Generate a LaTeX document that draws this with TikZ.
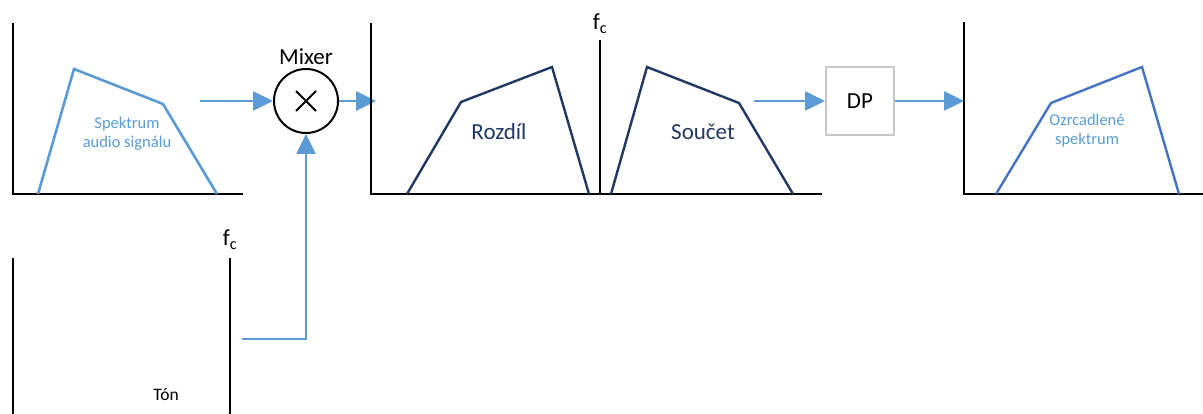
\documentclass[tikz,border=0pt]{standalone}
\usepackage{fontspec}
\setmainfont{Carlito}
\usetikzlibrary{arrows.meta,calc}
\definecolor{lblue}{HTML}{5B9BD5}
\definecolor{navy}{HTML}{1F3864}
\definecolor{mblue}{HTML}{4472C4}
\definecolor{boxgray}{HTML}{C8C8C8}
\tikzset{
  axis/.style={line width=2.6pt, black},
  spec1/.style={line width=2.6pt, lblue, line join=miter},
  spec2/.style={line width=2.4pt, navy, line join=miter},
  spec3/.style={line width=2.4pt, mblue, line join=miter},
  flow/.style={line width=2.6pt, lblue, -{Triangle[length=20pt,width=19pt]}},
  bigtext/.style={font=\fontsize{23}{28}\selectfont, inner sep=0pt},
  smalltext/.style={font=\fontsize{16.5}{19}\selectfont, inner sep=0pt, align=center},
}
\begin{document}
\begin{tikzpicture}[x=1pt,y=-1pt]
\useasboundingbox (0,0) rectangle (1203,414);
% Panel 1
\draw[axis] (13,23) -- (13,194) -- (243,194);
\draw[spec1] (38,194) -- (74,69) -- (163,104) -- (217,194);
\node[smalltext, text=lblue] (t1) at (127,134) {Spektrum\\audio signálu};
% Mixer
\node[circle, draw, line width=2pt, minimum size=64pt, inner sep=0pt] (mix) at (306,101) {};
\draw[line width=2pt] ($(mix.center)+(-10,-10)$) -- ($(mix.center)+(10,10)$);
\draw[line width=2pt] ($(mix.center)+(-10,10)$) -- ($(mix.center)+(10,-10)$);
\node[bigtext] (mixl) at (306,57) {Mixer};
\coordinate (a1s) at (200,101);
\coordinate (a2e) at (376,101);
\draw[flow] (a1s) -- (mix.west);
\draw[flow] (mix.east) -- (a2e);
% Panel 2
\draw[axis] (371,23) -- (371,194) -- (822,194);
\draw[axis] (600,40) -- (600,194);
\node[bigtext] (fc1) at (600,24) {f\textsubscript{c}};
\draw[spec2] (407,194) -- (461,102) -- (552,67) -- (589,194);
\draw[spec2] (611,194) -- (647,67) -- (739,103) -- (793,194);
\node[bigtext, text=navy] (roz) at (499,132) {Rozdíl};
\node[bigtext, text=navy] (sou) at (703,132) {Součet};
% DP
\node[draw=boxgray, line width=2pt, minimum width=68pt, minimum height=68pt, inner sep=0pt, bigtext] (dp) at (860,101) {DP};
\coordinate (a3s) at (754,101);
\coordinate (a4e) at (964,101);
\draw[flow] (a3s) -- (dp.west);
\draw[flow] (dp.east) -- (a4e);
% Panel 3
\draw[axis] (964,22) -- (964,194) -- (1203,194);
\draw[spec3] (996,194) -- (1051,103) -- (1142,67) -- (1179,194);
\node[smalltext, text=lblue] (t3) at (1087,131) {Ozrcadlené\\spektrum};
% Bottom panel
\draw[axis] (13,258) -- (13,414);
\draw[axis] (230,258) -- (230,414);
\node[bigtext] (fc2) at (230,240) {f\textsubscript{c}};
\node[font=\fontsize{17.5}{20}\selectfont, inner sep=0pt] (ton) at (166,395) {Tón};
\coordinate (a5s) at (242,339);
\draw[flow] (a5s) -| (mix.south);
\end{tikzpicture}
\end{document}
